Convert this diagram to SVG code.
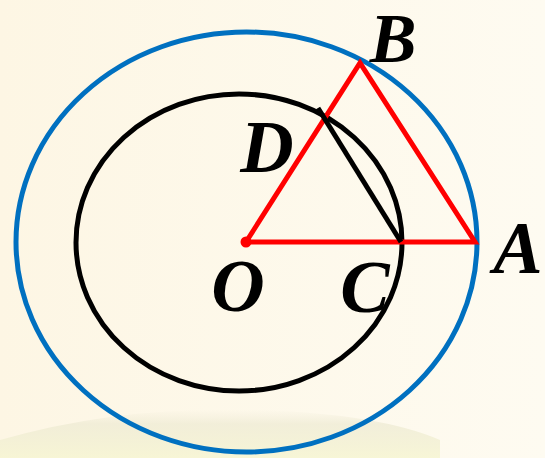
<svg xmlns="http://www.w3.org/2000/svg" width="545" height="458" viewBox="0 0 545 458">
<defs>
<linearGradient id="bg" x1="0" y1="0" x2="1" y2="0">
<stop offset="0" stop-color="#FDF6E4"/>
<stop offset="1" stop-color="#FEFBF1"/>
</linearGradient>
<linearGradient id="band" x1="0" y1="0" x2="0" y2="1">
<stop offset="0" stop-color="#EFEBD6" stop-opacity="0"/>
<stop offset="0.3" stop-color="#EDEAD2" stop-opacity="0.7"/>
<stop offset="1" stop-color="#F6F5D2" stop-opacity="0.85"/>
</linearGradient>
</defs>
<style>
.lbl{font-family:"Liberation Serif","Times New Roman",serif;font-weight:bold;font-style:italic;font-size:74px;fill:#000;text-anchor:middle}
.blue{fill:none;stroke:#0070C0;stroke-width:5}
.blk{fill:none;stroke:#000;stroke-width:5}
.red{fill:none;stroke:#FF0000;stroke-width:5;stroke-linejoin:miter}
</style>
<rect width="545" height="458" fill="url(#bg)"/>
<path d="M0,458 L0,440 Q120,405 260,410 Q380,414 440,440 L440,458 Z" fill="url(#band)"/>
<g id="outer-circle"><ellipse class="blue" cx="246.5" cy="242" rx="230.5" ry="210"/></g>
<g id="inner-circle"><ellipse class="blk" cx="239" cy="242.5" rx="163" ry="148.5"/></g>
<g id="connectors">
<polygon class="red" points="246,242 360,63 475,242"/>
<line class="blk" x1="318" y1="108" x2="401" y2="242" stroke-width="4"/>
</g>
<g id="O"><circle cx="246" cy="242" r="5.5" fill="#FF0000"/><text class="lbl" x="238" y="311">O</text></g>
<g id="A"><text class="lbl" x="518" y="273">A</text></g>
<g id="B"><text class="lbl" x="393" y="62" style="font-size:70px">B</text></g>
<g id="C"><text class="lbl" x="365" y="312">C</text></g>
<g id="D"><text class="lbl" x="267" y="172">D</text></g>
</svg>
